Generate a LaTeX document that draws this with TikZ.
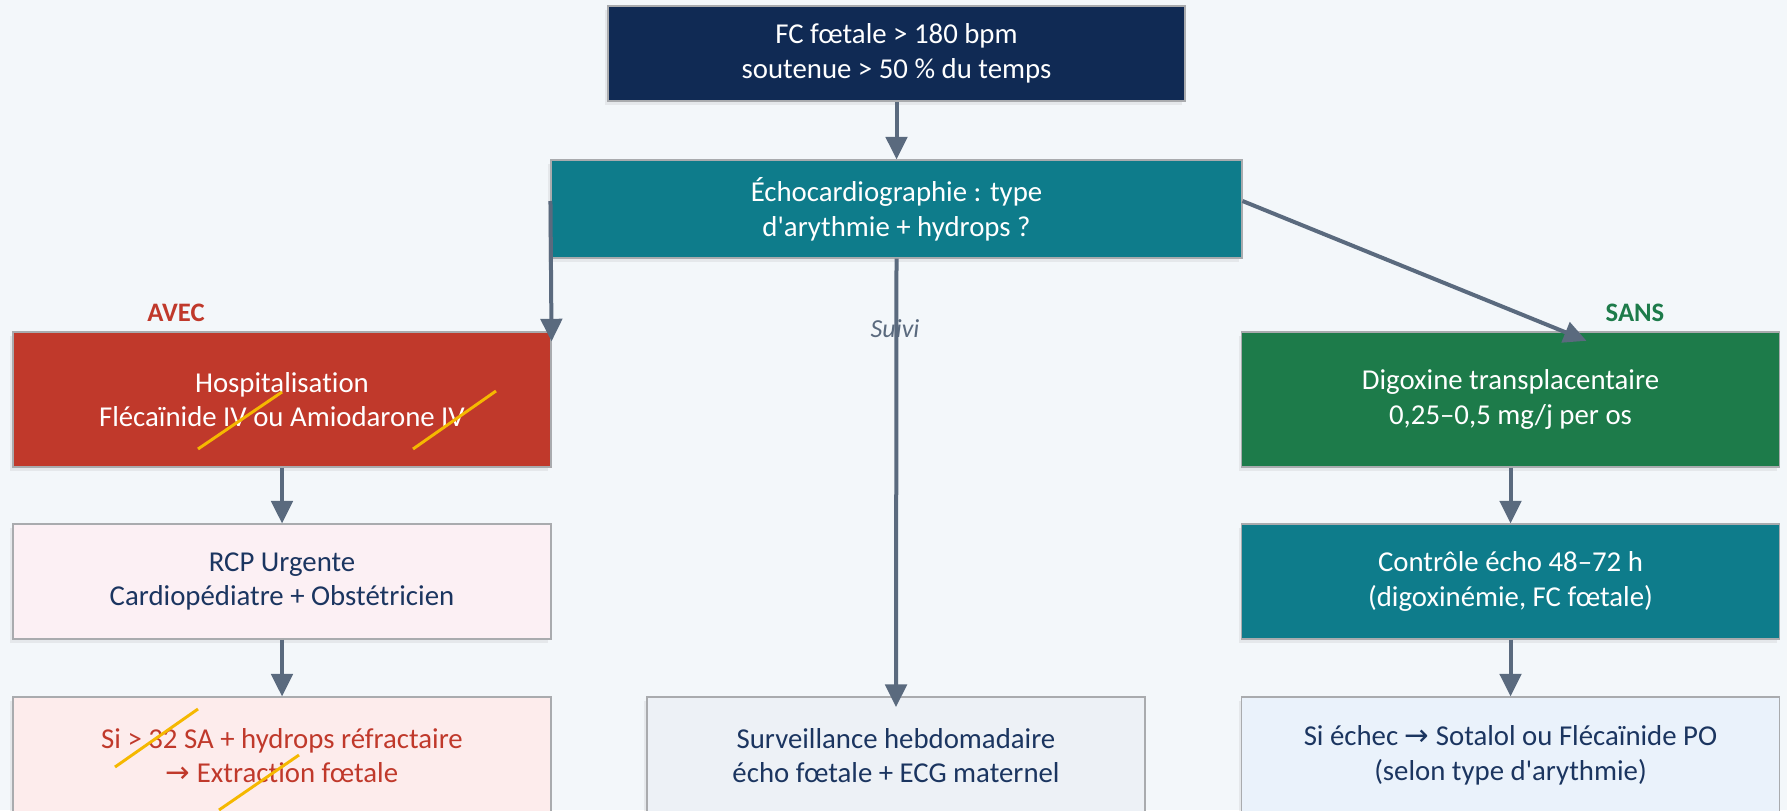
\documentclass[tikz,border=0pt]{standalone}
\usepackage{fontspec}
\setmainfont{Carlito}[Ligatures=NoCommon]
\newfontfamily\arrowfont{DejaVu Sans}
\usepackage{tikz}
\usetikzlibrary{arrows.meta,shadows}

\definecolor{bgcol}{HTML}{F3F7FA}
\definecolor{navybox}{HTML}{102A54}
\definecolor{tealbox}{HTML}{0E7C8B}
\definecolor{redbox}{HTML}{C0392B}
\definecolor{greenbox}{HTML}{1D7B4A}
\definecolor{pinkbox}{HTML}{FCF0F4}
\definecolor{rosebox}{HTML}{FDECEC}
\definecolor{greybox}{HTML}{EDF1F6}
\definecolor{bluebox}{HTML}{EAF2FB}
\definecolor{navytxt}{HTML}{1B3560}
\definecolor{arrowcol}{HTML}{5A6A7E}
\definecolor{bordercol}{HTML}{A9ABAE}
\definecolor{strikecol}{HTML}{F5B800}

\newcommand{\rarr}{{\arrowfont\fontsize{22}{26}\selectfont →}}
\newcommand{\apos}{\textquotesingle}

\tikzset{
  flowbox/.style={draw=bordercol, line width=0.8pt, rectangle, align=center,
    font=\fontsize{21.6}{26}\selectfont,
    drop shadow={opacity=0.12, shadow xshift=-2pt, shadow yshift=-3pt}},
  wide/.style={minimum width=403.5pt},
  flowarrow/.style={draw=arrowcol, line width=3pt, -{Triangle[length=17pt,width=16pt]}},
  strike/.style={draw=strikecol, line width=2.2pt},
  branch/.style={font=\fontsize{20}{24}\selectfont\bfseries},
}

\begin{document}
\begin{tikzpicture}[x=0.75pt,y=0.75pt,yscale=-1,xscale=1]
\fill[bgcol] (0,0) rectangle (1787,810);
\useasboundingbox (0,0) rectangle (1787,810);

% Text Node
\node[flowbox, fill=navybox, text=white, minimum width=432.75pt, minimum height=71.25pt] (fc) at (896.5,53.5) {FC fœtale > 180 bpm\\soutenue > 50 \% du temps};
% Text Node
\node[flowbox, fill=tealbox, text=white, minimum width=518.25pt, minimum height=73.5pt] (echo) at (896.5,209) {Échocardiographie : type\\d\apos arythmie + hydrops ?};

% Text Node
\node[flowbox, wide, fill=redbox, text=white, minimum height=101.25pt] (hosp) at (282,399.5) {Hospitalisation\\Flécaïnide IV ou Amiodarone IV};
% Text Node
\node[flowbox, wide, fill=pinkbox, text=navytxt, minimum height=86.25pt] (rcp) at (282,581.5) {RCP Urgente\\Cardiopédiatre + Obstétricien};
% Text Node
\node[flowbox, wide, fill=rosebox, text=redbox, minimum height=87.75pt] (extr) at (282,755.5) {Si > 32 SA + hydrops réfractaire\\\rarr{} Extraction fœtale};

% Text Node
\node[flowbox, fill=greybox, text=navytxt, minimum width=373.5pt, minimum height=87.75pt] (surv) at (896,755.5) {Surveillance hebdomadaire\\écho fœtale + ECG maternel};

% Text Node
\node[flowbox, wide, fill=greenbox, text=white, minimum height=101.25pt] (digo) at (1510.5,399.5) {Digoxine transplacentaire\\0,25–0,5 mg/j per os};
% Text Node
\node[flowbox, wide, fill=tealbox, text=white, minimum height=86.25pt] (ctrl) at (1510.5,581.5) {Contrôle écho 48–72 h\\(digoxinémie, FC fœtale)};
% Text Node
\node[flowbox, wide, fill=bluebox, text=navytxt, minimum height=87.75pt] (echec) at (1510.5,755.5) {Si échec \rarr{} Sotalol ou Flécaïnide PO\\(selon type d\apos arythmie)};

% Text Node
\node[branch, text=redbox] (avec) at (176,313) {AVEC};
% Text Node
\node[branch, text=greenbox] (sans) at (1635,313) {SANS};
% Text Node
\node[font=\fontsize{19.5}{23}\selectfont\itshape, text=arrowcol] (suivi) at (895,329) {Suivi};

%Straight Lines
\draw[flowarrow] (fc.south) -- (echo.north);
%Straight Lines
\draw[flowarrow] ([yshift=-6pt]echo.west) -- ([yshift=7.5pt]hosp.north east);
%Straight Lines
\draw[flowarrow] (echo.south) -- ([yshift=8pt]surv.north);
%Straight Lines
\draw[flowarrow] ([yshift=-6pt]echo.east) -- ([xshift=57pt,yshift=7pt]digo.north);
%Straight Lines
\draw[flowarrow] (hosp.south) -- (rcp.north);
\draw[flowarrow] (rcp.south) -- (extr.north);
%Straight Lines
\draw[flowarrow] (digo.south) -- (ctrl.north);
\draw[flowarrow] (ctrl.south) -- (echec.north);

%Straight Lines
\draw[strike] (198,449) -- (282,392);
\draw[strike] (413,449) -- (496,391);
\draw[strike] (115,767) -- (198,709);
\draw[strike] (219,810) -- (299,755);

\end{tikzpicture}
\end{document}
